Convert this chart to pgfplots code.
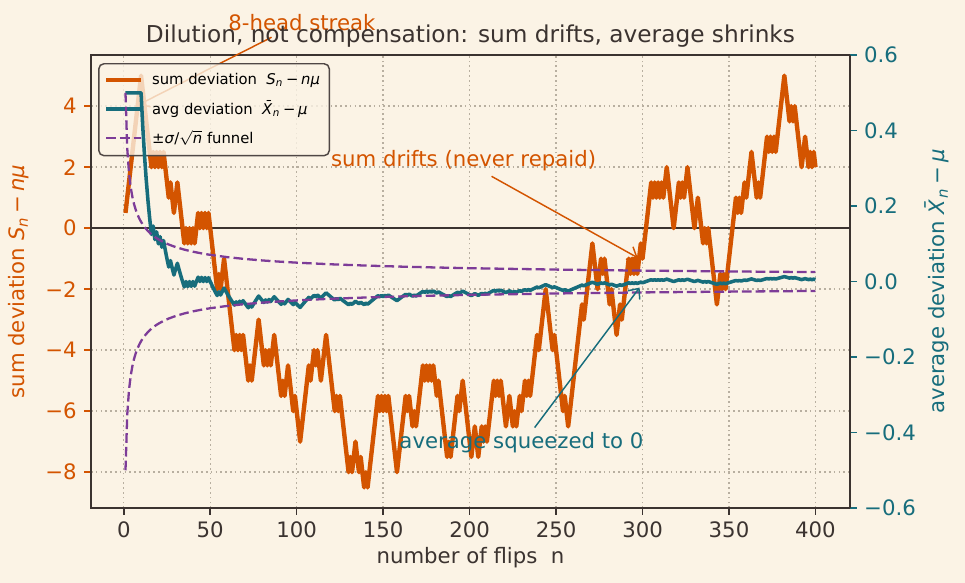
\documentclass[border=0pt]{standalone}
\usepackage{fontspec}
\setmainfont{DejaVu Sans}
\usepackage{pgfplots}
\usepackage{pgfplotstable}
\pgfplotsset{compat=1.18}
\usetikzlibrary{arrows.meta,backgrounds}

\definecolor{bg}{HTML}{FBF3E5}
\definecolor{sumc}{HTML}{D35400}
\definecolor{avgc}{HTML}{176D7C}
\definecolor{func}{HTML}{7D3C98}
\definecolor{ink}{HTML}{3B3330}
\definecolor{gridc}{HTML}{B8AFA0}

\newcommand{\fbody}{\fontsize{10.2}{12}\selectfont}
\newcommand{\ftitle}{\fontsize{11.15}{13}\selectfont}
\newcommand{\fleg}{\fontsize{7.1}{8.5}\selectfont}
\newcommand{\Sn}{\textit{S}\textsubscript{\textit{n}}}
\newcommand{\Xn}{\textit{X̄}\textsubscript{\textit{n}}}
\newcommand{\mminus}{\hspace{0.18em}−\hspace{0.18em}}

% running sum deviation S_n - n/2 of 400 fair coin flips
\pgfplotstableread[row sep=\\]{
n S\\
1 0.5\\ 2 1\\ 3 1.5\\ 4 2\\ 5 2.5\\ 6 3\\ 7 3.5\\ 8 4\\ 9 4.5\\ 10 5\\
11 4.5\\ 12 4\\ 13 3.5\\ 14 3\\ 15 2.5\\ 16 2\\ 17 2.5\\ 18 2\\ 19 2.5\\ 20 2\\
21 2.5\\ 22 2\\ 23 2.5\\ 24 2\\ 25 1.5\\ 26 1\\ 27 1.5\\ 28 1\\ 29 0.5\\ 30 1\\
31 1.5\\ 32 1\\ 33 0.5\\ 34 0\\ 35 -0.5\\ 36 0\\ 37 -0.5\\ 38 0\\ 39 -0.5\\ 40 0\\
41 -0.5\\ 42 0\\ 43 0.5\\ 44 0\\ 45 0.5\\ 46 0\\ 47 0.5\\ 48 0\\ 49 0.5\\ 50 0\\
51 -0.5\\ 52 -1\\ 53 -1.5\\ 54 -2\\ 55 -1.5\\ 56 -2\\ 57 -1.5\\ 58 -1\\ 59 -1.5\\ 60 -2\\
61 -2.5\\ 62 -3\\ 63 -3.5\\ 64 -4\\ 65 -3.5\\ 66 -4\\ 67 -3.5\\ 68 -4\\ 69 -3.5\\ 70 -4\\
71 -4.5\\ 72 -5\\ 73 -4.5\\ 74 -5\\ 75 -4.5\\ 76 -4\\ 77 -3.5\\ 78 -3\\ 79 -3.5\\ 80 -4\\
81 -4.5\\ 82 -4\\ 83 -4.5\\ 84 -4\\ 85 -4.5\\ 86 -4\\ 87 -3.5\\ 88 -4\\ 89 -4.5\\ 90 -5\\
91 -5.5\\ 92 -5\\ 93 -5.5\\ 94 -5\\ 95 -4.5\\ 96 -5\\ 97 -5.5\\ 98 -6\\ 99 -5.5\\ 100 -6\\
101 -6.5\\ 102 -7\\ 103 -6.5\\ 104 -6\\ 105 -5.5\\ 106 -5\\ 107 -4.5\\ 108 -5\\ 109 -4.5\\ 110 -4\\
111 -4.5\\ 112 -4\\ 113 -4.5\\ 114 -5\\ 115 -4.5\\ 116 -4\\ 117 -3.5\\ 118 -4\\ 119 -4.5\\ 120 -5\\
121 -5.5\\ 122 -6\\ 123 -5.5\\ 124 -6\\ 125 -5.5\\ 126 -6\\ 127 -6.5\\ 128 -7\\ 129 -7.5\\ 130 -8\\
131 -7.5\\ 132 -8\\ 133 -7.5\\ 134 -7\\ 135 -7.5\\ 136 -8\\ 137 -7.5\\ 138 -8\\ 139 -8.5\\ 140 -8\\
141 -8.5\\ 142 -8\\ 143 -7.5\\ 144 -7\\ 145 -6.5\\ 146 -6\\ 147 -5.5\\ 148 -6\\ 149 -5.5\\ 150 -6\\
151 -5.5\\ 152 -6\\ 153 -5.5\\ 154 -6\\ 155 -6.5\\ 156 -7\\ 157 -7.5\\ 158 -8\\ 159 -7.5\\ 160 -7\\
161 -6.5\\ 162 -6\\ 163 -5.5\\ 164 -6\\ 165 -5.5\\ 166 -6\\ 167 -6.5\\ 168 -6\\ 169 -6.5\\ 170 -6\\
171 -5.5\\ 172 -5\\ 173 -4.5\\ 174 -5\\ 175 -4.5\\ 176 -5\\ 177 -4.5\\ 178 -5\\ 179 -4.5\\ 180 -5\\
181 -5.5\\ 182 -5\\ 183 -5.5\\ 184 -6\\ 185 -6.5\\ 186 -7\\ 187 -7.5\\ 188 -7\\ 189 -7.5\\ 190 -7\\
191 -6.5\\ 192 -6\\ 193 -5.5\\ 194 -6\\ 195 -5.5\\ 196 -5\\ 197 -5.5\\ 198 -6\\ 199 -6.5\\ 200 -7\\
201 -7.5\\ 202 -7\\ 203 -6.5\\ 204 -7\\ 205 -7.5\\ 206 -7\\ 207 -6.5\\ 208 -7\\ 209 -6.5\\ 210 -7\\
211 -6.5\\ 212 -6\\ 213 -5.5\\ 214 -5\\ 215 -5.5\\ 216 -5\\ 217 -5.5\\ 218 -5\\ 219 -5.5\\ 220 -6\\
221 -6.5\\ 222 -6\\ 223 -5.5\\ 224 -6\\ 225 -6.5\\ 226 -6\\ 227 -6.5\\ 228 -6\\ 229 -5.5\\ 230 -6\\
231 -5.5\\ 232 -5\\ 233 -5.5\\ 234 -5\\ 235 -5.5\\ 236 -5\\ 237 -4.5\\ 238 -4\\ 239 -3.5\\ 240 -4\\
241 -3.5\\ 242 -3\\ 243 -2.5\\ 244 -2\\ 245 -2.5\\ 246 -3\\ 247 -3.5\\ 248 -4\\ 249 -3.5\\ 250 -4\\
251 -4.5\\ 252 -5\\ 253 -5.5\\ 254 -6\\ 255 -5.5\\ 256 -6\\ 257 -6.5\\ 258 -6\\ 259 -5.5\\ 260 -5\\
261 -4.5\\ 262 -4\\ 263 -3.5\\ 264 -3\\ 265 -2.5\\ 266 -3\\ 267 -2.5\\ 268 -2\\ 269 -1.5\\ 270 -1\\
271 -0.5\\ 272 -1\\ 273 -1.5\\ 274 -2\\ 275 -1.5\\ 276 -1\\ 277 -1.5\\ 278 -1\\ 279 -1.5\\ 280 -2\\
281 -2.5\\ 282 -2\\ 283 -2.5\\ 284 -3\\ 285 -3.5\\ 286 -3\\ 287 -2.5\\ 288 -3\\ 289 -2.5\\ 290 -2\\
291 -1.5\\ 292 -1\\ 293 -1.5\\ 294 -1\\ 295 -1.5\\ 296 -1\\ 297 -1.5\\ 298 -1\\ 299 -0.5\\ 300 -1\\
301 -0.5\\ 302 0\\ 303 0.5\\ 304 1\\ 305 1.5\\ 306 1\\ 307 1.5\\ 308 1\\ 309 1.5\\ 310 1\\
311 1.5\\ 312 1\\ 313 1.5\\ 314 2\\ 315 1.5\\ 316 1\\ 317 0.5\\ 318 0\\ 319 0.5\\ 320 1\\
321 1.5\\ 322 1\\ 323 1.5\\ 324 1\\ 325 1.5\\ 326 2\\ 327 1.5\\ 328 1\\ 329 0.5\\ 330 0\\
331 0.5\\ 332 1\\ 333 0.5\\ 334 0\\ 335 -0.5\\ 336 0\\ 337 -0.5\\ 338 0\\ 339 -0.5\\ 340 -1\\
341 -1.5\\ 342 -2\\ 343 -2.5\\ 344 -2\\ 345 -1.5\\ 346 -2\\ 347 -1.5\\ 348 -2\\ 349 -1.5\\ 350 -1\\
351 -0.5\\ 352 0\\ 353 0.5\\ 354 1\\ 355 0.5\\ 356 1\\ 357 0.5\\ 358 1\\ 359 1.5\\ 360 1\\
361 1.5\\ 362 2\\ 363 2.5\\ 364 2\\ 365 1.5\\ 366 1\\ 367 1.5\\ 368 1\\ 369 1.5\\ 370 2\\
371 2.5\\ 372 3\\ 373 2.5\\ 374 3\\ 375 2.5\\ 376 3\\ 377 2.5\\ 378 3\\ 379 3.5\\ 380 4\\
381 4.5\\ 382 5\\ 383 4.5\\ 384 4\\ 385 3.5\\ 386 4\\ 387 3.5\\ 388 4\\ 389 3.5\\ 390 3\\
391 2.5\\ 392 2\\ 393 2.5\\ 394 3\\ 395 2.5\\ 396 2\\ 397 2.5\\ 398 2\\ 399 2.5\\ 400 2\\
}\walk

% sigma/sqrt(n) with sigma = 0.5
\pgfplotstableread[row sep=\\]{
n f\\
1 0.5\\ 2 0.35355\\ 3 0.28868\\ 4 0.25\\ 5 0.22361\\ 6 0.20412\\ 7 0.18898\\ 8 0.17678\\
9 0.16667\\ 10 0.15811\\ 12 0.14434\\ 14 0.13363\\ 16 0.125\\ 18 0.11785\\ 20 0.11180\\
23 0.10426\\ 26 0.09806\\ 30 0.09129\\ 35 0.08452\\ 40 0.07906\\ 45 0.07454\\ 50 0.07071\\
60 0.06455\\ 70 0.05976\\ 80 0.05590\\ 90 0.05270\\ 100 0.05\\ 120 0.04564\\ 140 0.04226\\
160 0.03953\\ 180 0.03727\\ 200 0.03536\\ 250 0.03162\\ 300 0.02887\\ 350 0.02673\\ 400 0.025\\
}\funnel

\begin{document}
\begin{tikzpicture}
% left axis: cumulative sum deviation
\begin{axis}[
  at={(0pt,0pt)}, anchor=south west,
  scale only axis, width=364.3pt, height=217.4pt,
  xmin=-18.95, xmax=419.95, ymin=-9.175, ymax=5.675,
  xtick={0,50,...,400},
  ytick={-8,-6,-4,-2,0,2,4},
  yticklabels={−8,−6,−4,−2,0,2,4},
  xtick pos=left, ytick pos=left,
  tick align=outside, major tick length=3.3pt,
  axis line style={ink, line width=0.75pt},
  xtick style={ink, line width=0.75pt},
  ytick style={sumc, line width=0.75pt},
  grid=major,
  major grid style={gridc, line width=0.7pt, dash pattern=on 0.8pt off 1.5pt},
  /pgf/number format/assume math mode=true,
  x tick label style={ink, font=\fbody},
  y tick label style={sumc, font=\fbody},
  xlabel={number of flips\ \ n},
  every axis x label/.style={at={(axis description cs:0.5,-0.110)}, anchor=center, ink, font=\fbody},
  ylabel={sum deviation \Sn\mminus\textit{nμ}},
  every axis y label/.style={at={(axis description cs:-0.095,0.5)}, rotate=90, anchor=center, sumc, font=\fbody},
  title={Dilution, not compensation: sum drifts, average shrinks},
  every axis title/.style={at={(axis description cs:0.5,1.042)}, anchor=center, ink, font=\ftitle},
  clip mode=individual,
  legend style={at={(rel axis cs:0.0093,0.9825)}, anchor=north west,
    draw=ink!90, line width=0.7pt, fill=bg, fill opacity=0.8, draw opacity=1, text opacity=1,
    rounded corners=2.5pt, font=\fleg, inner xsep=2.5pt, inner ysep=2.5pt, row sep=2.2pt},
  legend cell align=left,
  legend image code/.code={\draw[#1] (0pt,0pt) -- (16.5pt,0pt);},
  /tikz/every odd column/.append style={column sep=2.5pt},
]
\addplot[ink, line width=0.93pt, forget plot] coordinates {(-18.95,0) (419.95,0)};
\addplot[sumc, line width=2.1pt, line join=round] table[x=n, y=S] {\walk};
\addlegendentry{sum deviation\ \ \Sn\mminus\textit{nμ}}
\addlegendimage{avgc, line width=1.7pt}
\addlegendentry{avg deviation\ \ \Xn\mminus\textit{μ}}
\addlegendimage{func, line width=1.1pt, dash pattern=on 4.6pt off 2pt}
\addlegendentry{±\textit{σ}/$\sqrt{\mbox{\textit{n}}}$ funnel}

\node[sumc, font=\fbody] at (axis cs:103,6.75) {8-head streak};
\draw[sumc, line width=0.7pt, -{Straight Barb[length=4pt,width=7pt]}] (axis cs:85.5,6.26) -- (axis cs:8.7,4.05);
\node[sumc, font=\fbody] at (axis cs:196.5,2.23) {sum drifts (never repaid)};
\draw[sumc, line width=0.7pt, -{Straight Barb[length=4pt,width=7pt]}] (axis cs:212.7,1.70) -- (axis cs:297.2,-0.97);
\end{axis}

% right axis: running average deviation
\begin{axis}[
  at={(0pt,0pt)}, anchor=south west,
  scale only axis, width=364.3pt, height=217.4pt,
  xmin=-18.95, xmax=419.95, ymin=-0.6, ymax=0.6,
  hide x axis, axis y line*=right,
  ytick={-0.6,-0.4,-0.2,0,0.2,0.4,0.6},
  yticklabels={−0.6,−0.4,−0.2,0.0,0.2,0.4,0.6},
  tick align=outside, major tick length=3.3pt,
  axis line style={ink, line width=0.75pt},
  ytick style={avgc, line width=0.75pt},
  y tick label style={avgc, font=\fbody},
  ylabel={average deviation \Xn\mminus\textit{μ}},
  every axis y label/.style={at={(axis description cs:1.1147,0.5)}, rotate=90, anchor=center, avgc, font=\fbody},
  clip mode=individual,
]
\addplot[avgc, line width=1.7pt, line join=round] table[x=n, y expr=\thisrow{S}/\thisrow{n}] {\walk};
\addplot[func, line width=1.1pt, dash pattern=on 4.6pt off 2pt] table[x=n, y=f] {\funnel};
\addplot[func, line width=1.1pt, dash pattern=on 4.6pt off 2pt] table[x=n, y expr=-\thisrow{f}] {\funnel};

\node[avgc, font=\fbody] at (axis cs:230,-0.426) {average squeezed to 0};
\draw[avgc, line width=0.7pt, -{Straight Barb[length=4pt,width=7pt]}] (axis cs:237.6,-0.387) -- (axis cs:298.3,-0.016);
\end{axis}

\begin{scope}[on background layer]
\fill[bg] (-43.68pt,-36pt) rectangle (419.52pt,243.84pt);
\end{scope}
\pgfresetboundingbox
\path[use as bounding box] (-43.68pt,-36pt) rectangle (419.52pt,243.84pt);
\end{tikzpicture}
\end{document}
